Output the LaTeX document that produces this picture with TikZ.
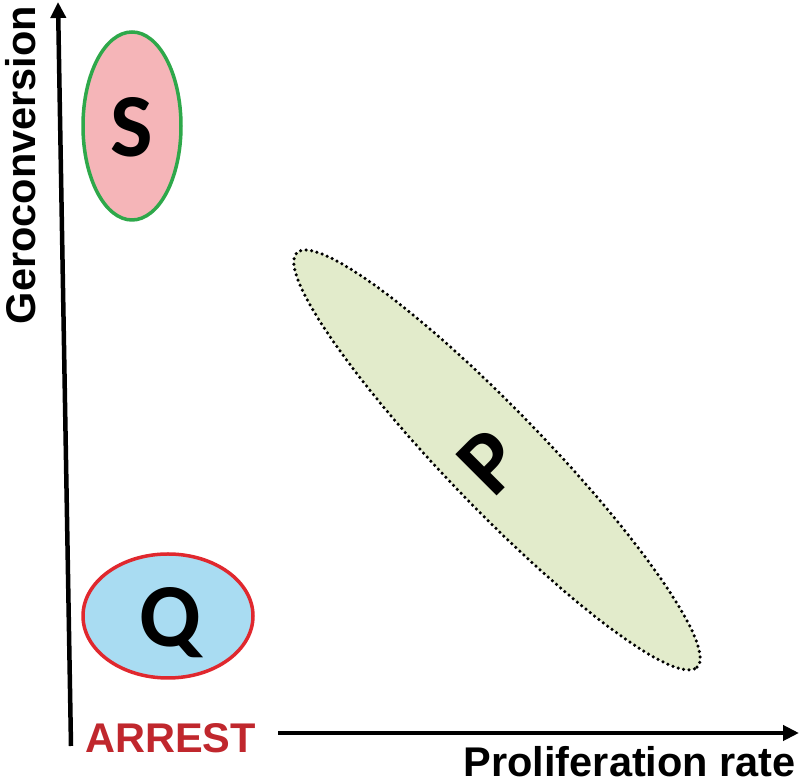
\documentclass[tikz,border=0pt]{standalone}
\usepackage{fontspec}
\setmainfont{Liberation Sans}
\newfontfamily\letterfont{Carlito}
\usetikzlibrary{arrows.meta}
\definecolor{sfill}{HTML}{F5B5B8}
\definecolor{sdraw}{HTML}{2EA84A}
\definecolor{qfill}{HTML}{A9DCF2}
\definecolor{qdraw}{HTML}{E0282E}
\definecolor{pfill}{HTML}{E2EBCB}
\definecolor{arrestred}{HTML}{C0272D}
\tikzset{
  axis/.style={line width=4.5pt, -{Triangle[length=16pt,width=15pt]}},
  biglabel/.style={font=\fontsize{41.5}{48}\selectfont\bfseries, inner sep=0pt},
  letter/.style={font=\letterfont\fontsize{90}{96}\selectfont\bfseries, inner sep=0pt}
}
\begin{document}
\begin{tikzpicture}[x=1pt,y=1pt]
\useasboundingbox (0,0) rectangle (800,783);
% ellipses
\draw[fill=pfill, line width=3.5pt, dash pattern=on 0pt off 5.5pt, line cap=round] (497,323) ellipse[x radius=288, y radius=49, rotate=-46];
\draw[fill=sfill, draw=sdraw, line width=3.5pt] (132,657) ellipse[x radius=49, y radius=94];
\draw[fill=qfill, draw=qdraw, line width=3.5pt] (168,167) ellipse[x radius=85, y radius=62];
% letters
\node[letter, anchor=base] (S) at (132,626) {S};
\node[letter, anchor=base] (Q) at (170,136) {Q};
\node[letter, rotate=45] (P) at (490,321) {P};
% axes
\coordinate (ybot) at (71,37);
\coordinate (ytop) at (58,781);
\draw[axis] (ybot) -- (ytop);
\coordinate (xstart) at (278,50);
\coordinate (xend) at (799,50);
\draw[axis] (xstart) -- (xend);
% labels
\node[biglabel, rotate=90, anchor=base] (gero) at (35,618) {Geroconversion};
\node[biglabel, anchor=base east] (prol) at (796,6) {Proliferation rate};
\node[biglabel, anchor=base west, text=arrestred] (arrest) at (85,30) {ARREST};
\end{tikzpicture}
\end{document}
